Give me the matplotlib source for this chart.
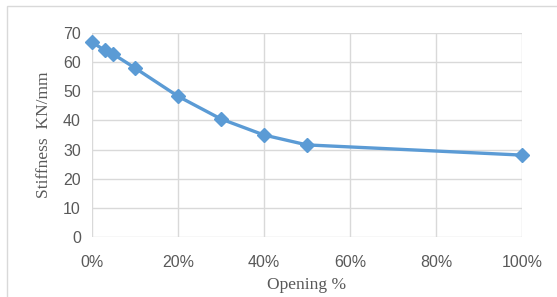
import matplotlib.pyplot as plt
from matplotlib.patches import Rectangle
from matplotlib.ticker import FuncFormatter

# data
opening = [0, 3, 5, 10, 20, 30, 40, 50, 100]   # %
stiffness = [66.9, 64.0, 62.7, 58.0, 48.3, 40.5, 35.0, 31.6, 28.1]  # KN/mm

x_ticks = [0, 20, 40, 60, 80, 100]
y_ticks = [0, 10, 20, 30, 40, 50, 60, 70]

blue = '#5B9BD5'
grid_col = '#D9D9D9'
tick_col = '#595959'

fig = plt.figure(figsize=(5.57, 2.97), dpi=100)
ax = fig.add_axes([0.165, 0.202, 0.772, 0.687])

ax.plot(opening, stiffness, color=blue, linewidth=2.4, marker='D', markersize=7.5,
        markerfacecolor=blue, markeredgecolor=blue, zorder=3, clip_on=False)

ax.set_xlim(0, 100)
ax.set_ylim(0, 70)
ax.set_xticks(x_ticks)
ax.set_yticks(y_ticks)
ax.xaxis.set_major_formatter(FuncFormatter(lambda v, p: '%d%%' % v))
ax.grid(True, color=grid_col, linewidth=1.0)
ax.set_axisbelow(True)
for s in ax.spines.values():
    s.set_visible(False)
ax.tick_params(length=0, colors=tick_col, labelsize=11.5)
ax.tick_params(axis='x', pad=13)
ax.tick_params(axis='y', pad=8)
for lab in ax.get_xticklabels() + ax.get_yticklabels():
    lab.set_family('Liberation Sans')

ax.set_xlabel('Opening %', family='Liberation Serif', fontsize=12.5, color=tick_col, labelpad=5)
ax.set_ylabel('Stiffness  KN/mm', family='Liberation Serif', fontsize=12.5, color=tick_col, labelpad=8)

# chart area border
fig.patches.append(Rectangle((7 / 557, -0.01), 0.995, 1 - 6 / 297 + 0.01, transform=fig.transFigure,
                             fill=False, edgecolor=grid_col, linewidth=1.0))

fig.savefig('out.png', dpi=100)
